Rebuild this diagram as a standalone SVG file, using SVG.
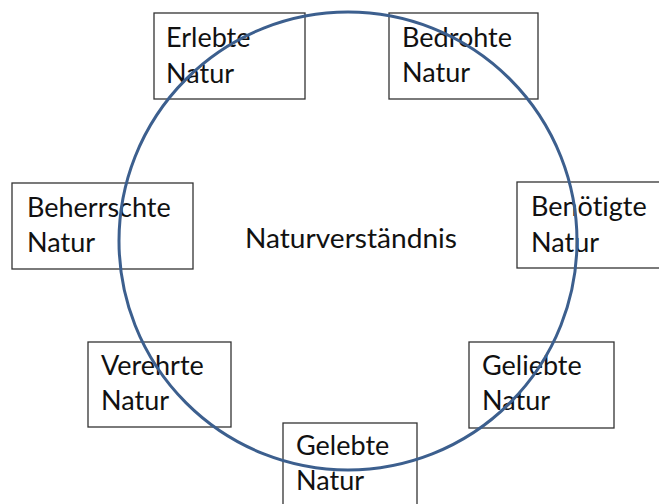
<svg xmlns="http://www.w3.org/2000/svg" width="659" height="504" viewBox="0 0 659 504">
  <style>
    .box { fill: #ffffff; stroke: #333333; stroke-width: 1.3; }
    .lbl { font-family: Lato, "Open Sans", "Liberation Sans", sans-serif; font-size: 27px; fill: #111111; font-variant-ligatures: none; }
    .ring { fill: none; stroke: #3c5f8e; stroke-width: 3; }
  </style>
  <rect width="659" height="504" fill="#ffffff"/>

  <g id="node-erlebte">
    <rect class="box" x="154" y="13" width="151" height="86"/>
    <text class="lbl" x="166" y="47">Erlebte</text>
    <text class="lbl" x="166" y="83">Natur</text>
  </g>
  <g id="node-bedrohte">
    <rect class="box" x="389" y="13" width="149" height="86"/>
    <text class="lbl" x="402" y="47">Bedrohte</text>
    <text class="lbl" x="402" y="82">Natur</text>
  </g>
  <g id="node-beherrschte">
    <rect class="box" x="12" y="183" width="181" height="86"/>
    <text class="lbl" x="27" y="217">Beherrschte</text>
    <text class="lbl" x="27" y="252">Natur</text>
  </g>
  <g id="node-benoetigte">
    <rect class="box" x="517" y="182" width="150" height="86"/>
    <text class="lbl" x="531" y="216">Benötigte</text>
    <text class="lbl" x="531" y="252">Natur</text>
  </g>
  <g id="node-verehrte">
    <rect class="box" x="88" y="342" width="143" height="85"/>
    <text class="lbl" x="101" y="375">Verehrte</text>
    <text class="lbl" x="101" y="410">Natur</text>
  </g>
  <g id="node-geliebte">
    <rect class="box" x="469" y="342" width="145" height="86"/>
    <text class="lbl" x="482" y="375">Geliebte</text>
    <text class="lbl" x="482" y="410">Natur</text>
  </g>
  <g id="node-gelebte">
    <rect class="box" x="283" y="423" width="134" height="90"/>
    <text class="lbl" x="296" y="455">Gelebte</text>
    <text class="lbl" x="296" y="490">Natur</text>
  </g>
  <g id="node-center">
    <text class="lbl" x="245" y="248" textLength="212" lengthAdjust="spacingAndGlyphs">Naturverständnis</text>
  </g>

  <g id="connectors">
    <circle class="ring" cx="348" cy="241" r="229"/>
  </g>
</svg>
